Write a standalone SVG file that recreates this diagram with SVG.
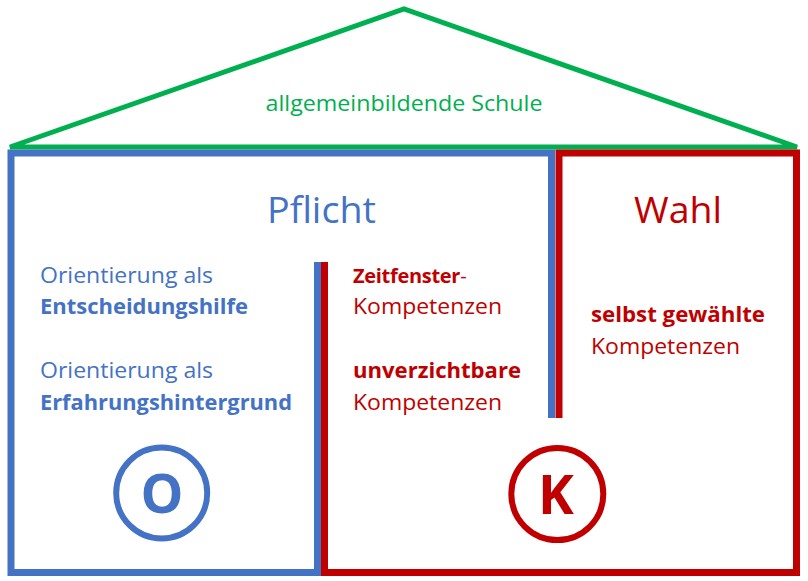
<svg xmlns="http://www.w3.org/2000/svg" width="808" height="581" viewBox="0 0 808 581">
<style>
.t{font-family:"Open Sans","Noto Sans","Liberation Sans",sans-serif;}
.b{fill:#4472C4}
.r{fill:#C00000}
.g{fill:#00B050}
.bd{font-weight:bold}
.ln{fill:none;stroke-linejoin:miter}
</style>
<rect width="808" height="581" fill="#ffffff"/>
<g id="roof">
<polygon class="ln" points="10,147 404,9 797,147" stroke="#00B050" stroke-width="5"/>
<text class="t g" x="404" y="111" font-size="22" text-anchor="middle" textLength="277" lengthAdjust="spacingAndGlyphs">allgemeinbildende Schule</text>
</g>
<g id="connectors">
<path class="ln" d="M551.5,418 V153 H11 V572.5 H317.5 V262" stroke="#4472C4" stroke-width="7"/>
<path class="ln" d="M324.5,262 V572.5 H796.5 V153 H559 V418" stroke="#C00000" stroke-width="7"/>
</g>
<g id="pflicht">
<text class="t b" x="321.5" y="223" font-size="36" text-anchor="middle" textLength="109" lengthAdjust="spacingAndGlyphs">Pflicht</text>
<text class="t b" x="40" y="283" font-size="22" textLength="173" lengthAdjust="spacingAndGlyphs">Orientierung als</text>
<text class="t b bd" x="40" y="314" font-size="22" textLength="208" lengthAdjust="spacingAndGlyphs">Entscheidungshilfe</text>
<text class="t b" x="40" y="378" font-size="22" textLength="173" lengthAdjust="spacingAndGlyphs">Orientierung als</text>
<text class="t b bd" x="40" y="410" font-size="22" textLength="252" lengthAdjust="spacingAndGlyphs">Erfahrungshintergrund</text>
</g>
<g id="kompetenzen">
<text class="t r" x="353" y="283" font-size="20" letter-spacing="-0.3"><tspan class="bd">Zeitfenster</tspan>-</text>
<text class="t r" x="353" y="314" font-size="22" textLength="149" lengthAdjust="spacingAndGlyphs">Kompetenzen</text>
<text class="t r bd" x="353" y="378" font-size="22" textLength="168" lengthAdjust="spacingAndGlyphs">unverzichtbare</text>
<text class="t r" x="353" y="410" font-size="22" textLength="149" lengthAdjust="spacingAndGlyphs">Kompetenzen</text>
</g>
<g id="wahl">
<text class="t r" x="678" y="223" font-size="36" text-anchor="middle" textLength="88" lengthAdjust="spacingAndGlyphs">Wahl</text>
<text class="t r bd" x="591" y="322" font-size="22" textLength="174" lengthAdjust="spacingAndGlyphs">selbst gewählte</text>
<text class="t r" x="591" y="354" font-size="22" textLength="149" lengthAdjust="spacingAndGlyphs">Kompetenzen</text>
</g>
<g id="circle-o">
<circle cx="161.7" cy="493" r="45.5" fill="none" stroke="#4472C4" stroke-width="6"/>
<text class="t b bd" x="162" y="513" font-size="54" text-anchor="middle">O</text>
</g>
<g id="circle-k">
<circle cx="557.3" cy="494" r="46" fill="none" stroke="#C00000" stroke-width="6"/>
<text class="t r bd" x="556" y="514" font-size="54" text-anchor="middle">K</text>
</g>
</svg>
